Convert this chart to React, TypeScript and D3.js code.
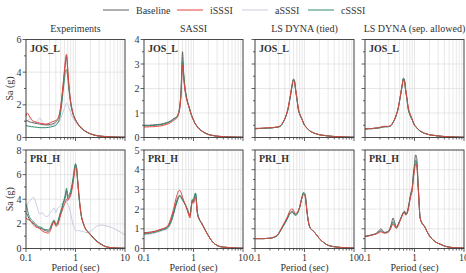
import React from 'react';
import * as d3 from 'd3';

// Period grid (sec)
const periods = [0.1, 0.105, 0.11, 0.12, 0.13, 0.14, 0.15, 0.17, 0.19, 0.21, 0.23, 0.25, 0.28, 0.31, 0.34, 0.37, 0.4, 0.43, 0.47, 0.5, 0.53, 0.56, 0.6, 0.63, 0.66, 0.7, 0.75, 0.8, 0.85, 0.9, 0.95, 1.0, 1.05, 1.1, 1.2, 1.3, 1.45, 1.6, 1.8, 2.0, 2.4, 2.8, 3.3, 4.0, 5.0, 6.5, 8.0, 10.0];

const seriesNames = ['Baseline', 'iSSSI', 'aSSSI', 'cSSSI'];
const seriesColors = ['#606060', '#e2453d', '#c8cbe0', '#2f8b6c'];
const panelTitles = ['Experiments', 'SASSI', 'LS DYNA (tied)', 'LS DYNA (sep. allowed)'];
const rowLabels = ['JOS_L', 'PRI_H'];
const rowYMax = [[6, 4, 4, 4], [8, 5, 5, 5]];
const rowYStep = [[2, 1, 1, 1], [2, 1, 1, 1]];
const xTickLabels = ['0.1', '1', '10'];

// Experiments, JOS_L
const expJosBase = [1.0, 1.05, 1.0, 0.95, 0.92, 0.9, 0.88, 0.85, 0.82, 0.8, 0.78, 0.77, 0.78, 0.8, 0.83, 0.88, 0.95, 1.05, 1.35, 1.8, 2.4, 3.1, 4.0, 4.6, 4.95, 4.0, 2.9, 2.2, 1.75, 1.45, 1.25, 1.1, 0.98, 0.88, 0.72, 0.6, 0.47, 0.38, 0.29, 0.23, 0.15, 0.11, 0.08, 0.06, 0.04, 0.03, 0.02, 0.015];
const expJosI = [1.3, 1.5, 1.45, 1.25, 1.1, 1.0, 0.97, 0.92, 0.88, 0.85, 0.83, 0.82, 0.85, 0.9, 0.97, 1.0, 1.05, 1.12, 1.4, 1.85, 2.5, 3.2, 4.2, 4.85, 5.1, 4.1, 2.9, 2.15, 1.7, 1.4, 1.2, 1.06, 0.95, 0.85, 0.7, 0.58, 0.45, 0.37, 0.28, 0.22, 0.14, 0.1, 0.075, 0.055, 0.04, 0.03, 0.02, 0.015];
const expJosA = [1.0, 0.95, 1.05, 1.15, 1.05, 0.95, 0.9, 1.0, 1.2, 1.0, 0.85, 0.8, 0.75, 0.72, 0.75, 0.8, 0.85, 0.9, 1.0, 1.15, 1.35, 1.55, 1.8, 2.0, 2.1, 2.0, 1.75, 1.5, 1.3, 1.15, 1.05, 0.95, 0.85, 0.78, 0.65, 0.55, 0.45, 0.37, 0.29, 0.23, 0.16, 0.12, 0.09, 0.07, 0.05, 0.04, 0.03, 0.02];
const expJosC = [0.72, 0.72, 0.7, 0.68, 0.66, 0.65, 0.64, 0.62, 0.6, 0.6, 0.6, 0.6, 0.62, 0.64, 0.67, 0.7, 0.75, 0.85, 1.1, 1.5, 2.1, 2.8, 3.6, 4.1, 4.15, 3.6, 2.7, 2.05, 1.65, 1.38, 1.2, 1.07, 0.96, 0.86, 0.71, 0.59, 0.46, 0.37, 0.28, 0.22, 0.14, 0.1, 0.075, 0.055, 0.04, 0.03, 0.02, 0.015];

// Experiments, PRI_H
const expPriBase = [2.9, 2.8, 2.6, 2.3, 2.15, 2.05, 1.95, 1.75, 1.65, 1.6, 1.5, 1.45, 1.4, 1.6, 2.0, 2.25, 1.9, 2.0, 2.5, 2.9, 3.2, 3.55, 3.9, 4.3, 4.7, 4.0, 4.2, 4.5, 5.0, 5.6, 6.3, 6.8, 6.6, 5.6, 3.9, 2.75, 2.0, 1.6, 1.35, 1.15, 0.8, 0.55, 0.35, 0.17, 0.08, 0.04, 0.03, 0.02];
const expPriI = [2.5, 2.4, 2.35, 2.3, 2.1, 1.95, 1.8, 1.7, 1.6, 1.45, 1.35, 1.3, 1.25, 1.45, 1.9, 2.2, 1.8, 1.85, 2.3, 2.7, 3.0, 3.3, 3.6, 3.8, 4.0, 3.9, 4.1, 4.3, 4.8, 5.4, 6.1, 6.6, 6.5, 5.7, 4.0, 2.8, 2.0, 1.55, 1.3, 1.1, 0.75, 0.5, 0.32, 0.15, 0.07, 0.04, 0.03, 0.02];
const expPriA = [3.0, 3.4, 3.7, 3.9, 4.0, 4.15, 4.0, 3.3, 2.8, 2.9, 2.75, 2.6, 2.65, 2.9, 3.1, 3.3, 2.9, 3.2, 3.4, 3.5, 3.6, 3.7, 3.9, 4.0, 3.8, 3.6, 3.3, 2.8, 2.3, 1.9, 1.65, 1.5, 1.45, 1.45, 1.45, 1.4, 1.4, 1.3, 1.3, 1.4, 1.65, 1.85, 1.9, 1.85, 1.75, 1.55, 1.35, 1.1];
const expPriC = [3.6, 3.3, 2.9, 2.5, 2.3, 2.2, 2.05, 1.85, 1.75, 1.7, 1.55, 1.55, 1.5, 1.7, 2.1, 2.3, 1.95, 2.1, 2.6, 3.0, 3.3, 3.7, 4.1, 4.5, 4.9, 4.2, 4.4, 4.7, 5.2, 5.8, 6.5, 6.9, 6.5, 5.5, 3.8, 2.7, 2.0, 1.6, 1.35, 1.15, 0.8, 0.55, 0.35, 0.17, 0.08, 0.04, 0.03, 0.02];

// SASSI, JOS_L
const sasJosBase = [0.5, 0.5, 0.5, 0.5, 0.5, 0.51, 0.51, 0.52, 0.53, 0.54, 0.55, 0.57, 0.6, 0.63, 0.67, 0.72, 0.78, 0.8, 0.88, 1.02, 1.3, 1.9, 3.5, 2.7, 2.2, 1.8, 1.5, 1.3, 1.12, 0.95, 0.82, 0.72, 0.62, 0.55, 0.44, 0.36, 0.28, 0.22, 0.17, 0.13, 0.09, 0.065, 0.05, 0.035, 0.025, 0.02, 0.015, 0.01];
const sasJosI = [0.43, 0.43, 0.43, 0.43, 0.44, 0.44, 0.44, 0.45, 0.46, 0.47, 0.48, 0.5, 0.53, 0.56, 0.6, 0.65, 0.71, 0.74, 0.82, 0.95, 1.2, 1.7, 2.95, 2.45, 2.05, 1.7, 1.45, 1.27, 1.1, 0.93, 0.8, 0.7, 0.61, 0.54, 0.43, 0.35, 0.27, 0.21, 0.16, 0.12, 0.085, 0.06, 0.045, 0.032, 0.024, 0.018, 0.014, 0.01];
const sasJosA = [0.49, 0.49, 0.49, 0.49, 0.49, 0.5, 0.5, 0.51, 0.52, 0.53, 0.54, 0.56, 0.59, 0.62, 0.66, 0.71, 0.77, 0.79, 0.87, 1.0, 1.28, 1.85, 3.3, 2.62, 2.15, 1.78, 1.48, 1.28, 1.1, 0.94, 0.81, 0.71, 0.61, 0.54, 0.43, 0.35, 0.27, 0.21, 0.16, 0.12, 0.085, 0.06, 0.045, 0.032, 0.024, 0.018, 0.014, 0.01];
const sasJosC = [0.48, 0.48, 0.48, 0.48, 0.48, 0.49, 0.49, 0.5, 0.51, 0.52, 0.53, 0.55, 0.58, 0.61, 0.65, 0.7, 0.76, 0.79, 0.87, 1.0, 1.27, 1.85, 3.1, 2.58, 2.15, 1.78, 1.48, 1.28, 1.1, 0.94, 0.81, 0.71, 0.61, 0.54, 0.43, 0.35, 0.27, 0.21, 0.16, 0.12, 0.085, 0.06, 0.045, 0.032, 0.024, 0.018, 0.014, 0.01];

// LS DYNA (tied), JOS_L
const tieJosBase = [0.36, 0.36, 0.36, 0.37, 0.37, 0.37, 0.38, 0.38, 0.39, 0.39, 0.4, 0.41, 0.42, 0.44, 0.5, 0.62, 0.75, 0.92, 1.2, 1.5, 1.8, 2.1, 2.38, 2.3, 1.95, 1.6, 1.15, 0.95, 0.82, 0.72, 0.6, 0.5, 0.45, 0.4, 0.32, 0.26, 0.21, 0.17, 0.14, 0.11, 0.09, 0.07, 0.055, 0.04, 0.03, 0.02, 0.015, 0.01];
const tieJosI = [0.37, 0.37, 0.38, 0.37, 0.38, 0.39, 0.38, 0.4, 0.39, 0.41, 0.4, 0.42, 0.43, 0.46, 0.52, 0.64, 0.77, 0.95, 1.25, 1.55, 1.85, 2.15, 2.32, 2.25, 2.0, 1.65, 1.2, 0.98, 0.84, 0.73, 0.6, 0.5, 0.45, 0.4, 0.32, 0.26, 0.21, 0.17, 0.14, 0.11, 0.09, 0.07, 0.055, 0.04, 0.03, 0.02, 0.015, 0.01];
const tieJosA = [0.36, 0.36, 0.36, 0.37, 0.37, 0.37, 0.38, 0.38, 0.39, 0.39, 0.4, 0.41, 0.42, 0.44, 0.5, 0.62, 0.75, 0.92, 1.2, 1.5, 1.8, 2.1, 2.4, 2.32, 1.95, 1.6, 1.15, 0.95, 0.82, 0.72, 0.6, 0.5, 0.45, 0.4, 0.32, 0.26, 0.21, 0.17, 0.14, 0.11, 0.09, 0.07, 0.055, 0.04, 0.03, 0.02, 0.015, 0.01];
const tieJosC = [0.36, 0.36, 0.36, 0.37, 0.37, 0.37, 0.38, 0.38, 0.39, 0.39, 0.4, 0.41, 0.42, 0.44, 0.5, 0.62, 0.75, 0.92, 1.2, 1.5, 1.8, 2.1, 2.36, 2.28, 1.95, 1.6, 1.15, 0.95, 0.82, 0.72, 0.6, 0.5, 0.45, 0.4, 0.32, 0.26, 0.21, 0.17, 0.14, 0.11, 0.09, 0.07, 0.055, 0.04, 0.03, 0.02, 0.015, 0.01];

// LS DYNA (sep. allowed), JOS_L
const sepJosBase = [0.35, 0.35, 0.35, 0.36, 0.36, 0.36, 0.37, 0.38, 0.39, 0.41, 0.43, 0.44, 0.44, 0.45, 0.5, 0.62, 0.75, 0.92, 1.2, 1.5, 1.8, 2.1, 2.42, 2.3, 1.95, 1.6, 1.15, 0.95, 0.82, 0.72, 0.6, 0.5, 0.45, 0.4, 0.32, 0.26, 0.21, 0.17, 0.14, 0.11, 0.09, 0.07, 0.055, 0.04, 0.03, 0.02, 0.015, 0.01];
const sepJosI = [0.36, 0.36, 0.37, 0.37, 0.36, 0.37, 0.38, 0.39, 0.41, 0.43, 0.45, 0.46, 0.45, 0.47, 0.52, 0.63, 0.77, 0.95, 1.22, 1.52, 1.82, 2.1, 2.35, 2.3, 2.0, 1.65, 1.22, 1.02, 0.88, 0.75, 0.62, 0.52, 0.46, 0.41, 0.33, 0.27, 0.21, 0.17, 0.14, 0.11, 0.09, 0.07, 0.055, 0.04, 0.03, 0.02, 0.015, 0.01];
const sepJosA = [0.35, 0.35, 0.35, 0.36, 0.36, 0.36, 0.37, 0.38, 0.39, 0.41, 0.43, 0.44, 0.44, 0.45, 0.5, 0.62, 0.75, 0.92, 1.2, 1.5, 1.8, 2.1, 2.44, 2.32, 1.95, 1.6, 1.15, 0.95, 0.82, 0.72, 0.6, 0.5, 0.45, 0.4, 0.32, 0.26, 0.21, 0.17, 0.14, 0.11, 0.09, 0.07, 0.055, 0.04, 0.03, 0.02, 0.015, 0.01];
const sepJosC = [0.35, 0.35, 0.35, 0.36, 0.36, 0.36, 0.37, 0.38, 0.39, 0.41, 0.43, 0.44, 0.44, 0.45, 0.5, 0.62, 0.75, 0.92, 1.2, 1.5, 1.8, 2.1, 2.4, 2.3, 1.95, 1.6, 1.15, 0.95, 0.82, 0.72, 0.6, 0.5, 0.45, 0.4, 0.32, 0.26, 0.21, 0.17, 0.14, 0.11, 0.09, 0.07, 0.055, 0.04, 0.03, 0.02, 0.015, 0.01];

// SASSI, PRI_H
const sasPriBase = [0.8, 0.8, 0.81, 0.82, 0.83, 0.84, 0.86, 0.88, 0.92, 0.95, 0.98, 1.0, 1.05, 1.15, 1.35, 1.6, 1.9, 2.2, 2.5, 2.65, 2.7, 2.65, 2.5, 2.4, 2.3, 2.15, 1.95, 1.75, 1.65, 2.1, 2.45, 2.35, 2.65, 2.78, 1.8, 1.5, 1.3, 1.1, 0.85, 0.65, 0.35, 0.2, 0.11, 0.07, 0.05, 0.03, 0.02, 0.015];
const sasPriI = [0.78, 0.78, 0.79, 0.8, 0.81, 0.82, 0.84, 0.87, 0.91, 0.95, 0.99, 1.02, 1.08, 1.2, 1.45, 1.75, 2.05, 2.4, 2.75, 2.92, 2.95, 2.85, 2.6, 2.45, 2.3, 2.15, 1.95, 1.7, 1.55, 2.05, 2.4, 2.3, 2.55, 2.6, 1.75, 1.48, 1.28, 1.08, 0.84, 0.64, 0.35, 0.2, 0.11, 0.07, 0.05, 0.03, 0.02, 0.015];
const sasPriA = [0.7, 0.7, 0.71, 0.72, 0.73, 0.74, 0.76, 0.79, 0.83, 0.86, 0.9, 0.93, 0.98, 1.06, 1.22, 1.45, 1.75, 2.05, 2.35, 2.55, 2.6, 2.55, 2.42, 2.35, 2.28, 2.15, 1.98, 1.8, 1.7, 2.12, 2.45, 2.38, 2.65, 2.7, 1.82, 1.5, 1.3, 1.1, 0.85, 0.65, 0.35, 0.2, 0.11, 0.07, 0.05, 0.03, 0.02, 0.015];
const sasPriC = [0.74, 0.74, 0.75, 0.76, 0.77, 0.78, 0.8, 0.83, 0.87, 0.9, 0.93, 0.96, 1.0, 1.08, 1.25, 1.5, 1.8, 2.1, 2.4, 2.6, 2.65, 2.6, 2.45, 2.38, 2.3, 2.18, 2.0, 1.82, 1.72, 2.15, 2.5, 2.4, 2.7, 2.82, 1.85, 1.52, 1.3, 1.1, 0.85, 0.65, 0.35, 0.2, 0.11, 0.07, 0.05, 0.03, 0.02, 0.015];

// LS DYNA (tied), PRI_H
const tiePriBase = [0.5, 0.5, 0.5, 0.5, 0.5, 0.5, 0.5, 0.51, 0.52, 0.52, 0.55, 0.58, 0.65, 0.8, 0.98, 1.15, 1.3, 1.45, 1.65, 1.8, 1.85, 1.9, 1.85, 1.75, 1.72, 1.75, 1.9, 2.1, 2.4, 2.65, 2.82, 2.8, 2.6, 2.1, 1.35, 1.05, 0.92, 0.82, 0.65, 0.5, 0.32, 0.2, 0.13, 0.09, 0.06, 0.04, 0.03, 0.02];
const tiePriI = [0.5, 0.5, 0.5, 0.5, 0.5, 0.5, 0.5, 0.51, 0.52, 0.53, 0.56, 0.6, 0.68, 0.84, 1.02, 1.2, 1.35, 1.5, 1.72, 1.9, 1.97, 2.02, 1.95, 1.82, 1.78, 1.8, 1.92, 2.1, 2.38, 2.6, 2.72, 2.7, 2.5, 2.05, 1.35, 1.05, 0.92, 0.82, 0.65, 0.5, 0.32, 0.2, 0.13, 0.09, 0.06, 0.04, 0.03, 0.02];
const tiePriA = [0.5, 0.5, 0.5, 0.5, 0.5, 0.5, 0.5, 0.51, 0.52, 0.52, 0.55, 0.58, 0.65, 0.8, 0.98, 1.14, 1.28, 1.43, 1.63, 1.78, 1.83, 1.86, 1.82, 1.73, 1.7, 1.74, 1.9, 2.1, 2.4, 2.66, 2.85, 2.82, 2.6, 2.1, 1.35, 1.05, 0.92, 0.82, 0.65, 0.5, 0.32, 0.2, 0.13, 0.09, 0.06, 0.04, 0.03, 0.02];
const tiePriC = [0.5, 0.5, 0.5, 0.5, 0.5, 0.5, 0.5, 0.51, 0.52, 0.52, 0.55, 0.58, 0.65, 0.8, 0.97, 1.12, 1.26, 1.4, 1.6, 1.75, 1.8, 1.82, 1.78, 1.7, 1.68, 1.72, 1.88, 2.08, 2.38, 2.64, 2.83, 2.8, 2.6, 2.1, 1.35, 1.05, 0.92, 0.82, 0.65, 0.5, 0.32, 0.2, 0.13, 0.09, 0.06, 0.04, 0.03, 0.02];

// LS DYNA (sep. allowed), PRI_H
const sepPriBase = [0.62, 0.63, 0.64, 0.66, 0.68, 0.7, 0.72, 0.78, 0.9, 1.0, 0.88, 0.82, 0.85, 0.95, 1.25, 1.55, 1.3, 1.1, 1.25, 1.4, 1.55, 1.7, 1.85, 1.9, 1.75, 1.8, 2.1, 2.5, 2.85, 3.1, 3.8, 4.3, 4.75, 4.65, 3.0, 1.55, 1.25, 1.12, 0.85, 0.65, 0.42, 0.3, 0.22, 0.13, 0.07, 0.04, 0.03, 0.02];
const sepPriI = [0.6, 0.61, 0.62, 0.64, 0.66, 0.68, 0.7, 0.74, 0.8, 0.85, 0.8, 0.78, 0.8, 0.88, 1.1, 1.25, 1.1, 1.02, 1.18, 1.35, 1.5, 1.65, 1.8, 1.85, 1.7, 1.75, 2.0, 2.4, 2.7, 2.95, 3.55, 3.95, 4.3, 4.25, 2.9, 1.55, 1.25, 1.1, 0.85, 0.65, 0.42, 0.3, 0.22, 0.13, 0.07, 0.04, 0.03, 0.02];
const sepPriA = [0.61, 0.62, 0.63, 0.65, 0.67, 0.69, 0.71, 0.76, 0.85, 0.92, 0.84, 0.8, 0.83, 0.92, 1.15, 1.4, 1.2, 1.05, 1.2, 1.38, 1.52, 1.68, 1.82, 1.88, 1.72, 1.78, 2.05, 2.45, 2.8, 3.05, 3.7, 4.15, 4.5, 4.45, 2.95, 1.55, 1.25, 1.12, 0.85, 0.65, 0.42, 0.3, 0.22, 0.13, 0.07, 0.04, 0.03, 0.02];
const sepPriC = [0.61, 0.62, 0.63, 0.65, 0.67, 0.69, 0.71, 0.76, 0.84, 0.9, 0.83, 0.8, 0.82, 0.9, 1.12, 1.35, 1.18, 1.04, 1.2, 1.37, 1.52, 1.67, 1.82, 1.87, 1.72, 1.77, 2.02, 2.42, 2.78, 3.02, 3.65, 4.1, 4.45, 4.4, 2.95, 1.55, 1.25, 1.12, 0.85, 0.65, 0.42, 0.3, 0.22, 0.13, 0.07, 0.04, 0.03, 0.02];

const panelSeries = [
  [
    [expJosBase, expJosI, expJosA, expJosC],
    [sasJosBase, sasJosI, sasJosA, sasJosC],
    [tieJosBase, tieJosI, tieJosA, tieJosC],
    [sepJosBase, sepJosI, sepJosA, sepJosC],
  ],
  [
    [expPriBase, expPriI, expPriA, expPriC],
    [sasPriBase, sasPriI, sasPriA, sasPriC],
    [tiePriBase, tiePriI, tiePriA, tiePriC],
    [sepPriBase, sepPriI, sepPriA, sepPriC],
  ],
];

// Layout
const W = 466;
const H = 273;
const PANEL_LEFT = [26, 144, 255, 365];
const PANEL_W = 99;
const ROW_TOP = [39.5, 150];
const ROW_BOTTOM = [137.5, 248.5];
const FONT = 'Liberation Serif, Times New Roman, Times, serif';
const TEXT_COLOR = '#333';
const DRAW_ORDER = [2, 0, 3, 1];

function Panel({ r, c }: { r: number; c: number }) {
  const L = PANEL_LEFT[c];
  const R = L + PANEL_W;
  const T = ROW_TOP[r];
  const B = ROW_BOTTOM[r];
  const x = d3.scaleLog().domain([0.1, 10]).range([L, R]);
  const y = d3.scaleLinear().domain([0, rowYMax[r][c]]).range([B, T]);
  const step = rowYStep[r][c];
  const majorY = d3.range(0, rowYMax[r][c] + 1e-9, step);
  const minorY = d3.range(step / 2, rowYMax[r][c], step).filter((v) => !majorY.some((m) => Math.abs(m - v) < 1e-9));
  const xt = x.ticks();
  const isMajorX = (v: number) => Math.abs(Math.log10(v) - Math.round(Math.log10(v))) < 1e-6;
  const line = d3
    .line<number>()
    .x((_, i) => x(periods[i]))
    .y((d) => y(d))
    .curve(d3.curveMonotoneX);
  const data = panelSeries[r][c];
  return (
    <g>
      {xt.map((v, i) => (
        <line key={'gx' + i} x1={x(v)} x2={x(v)} y1={T} y2={B} stroke="#d9d9d9" strokeWidth={0.6} />
      ))}
      {majorY.map((v, i) => (
        <line key={'gy' + i} x1={L} x2={R} y1={y(v)} y2={y(v)} stroke="#d9d9d9" strokeWidth={0.6} />
      ))}
      <g>
        {DRAW_ORDER.map((s) => (
          <path key={'s' + s} d={line(data[s]) || ''} fill="none" stroke={seriesColors[s]} strokeWidth={1} />
        ))}
      </g>
      <rect x={L} y={T} width={PANEL_W} height={B - T} fill="none" stroke="#3a3a3a" strokeWidth={0.9} />
      {xt.map((v, i) => (
        <line key={'tx' + i} x1={x(v)} x2={x(v)} y1={B} y2={B + (isMajorX(v) ? 3.5 : 2)} stroke="#3a3a3a" strokeWidth={0.8} />
      ))}
      {majorY.map((v, i) => (
        <line key={'ty' + i} x1={L - 3.5} x2={L} y1={y(v)} y2={y(v)} stroke="#3a3a3a" strokeWidth={0.8} />
      ))}
      {minorY.map((v, i) => (
        <line key={'tym' + i} x1={L - 2} x2={L} y1={y(v)} y2={y(v)} stroke="#3a3a3a" strokeWidth={0.8} />
      ))}
      {c < 2 &&
        majorY.map((v, i) => (
          <text key={'ly' + i} x={L - 4.5} y={y(v) + 3.5} textAnchor="end" fontSize={10} fontFamily={FONT} fill={TEXT_COLOR}>
            {d3.format('d')(v)}
          </text>
        ))}
      {r === 1 &&
        [0.1, 1, 10].map((v, i) => (
          <text key={'lx' + i} x={x(v)} y={261} textAnchor="middle" fontSize={10} fontFamily={FONT} fill={TEXT_COLOR}>
            {xTickLabels[i]}
          </text>
        ))}
      {r === 1 && (
        <text x={(L + R) / 2} y={271} textAnchor="middle" fontSize={10} fontFamily={FONT} fill={TEXT_COLOR}>
          Period (sec)
        </text>
      )}
      {r === 0 && (
        <text x={(L + R) / 2} y={32} textAnchor="middle" fontSize={10} fontFamily={FONT} fill={TEXT_COLOR}>
          {panelTitles[c]}
        </text>
      )}
      <text x={L + 4} y={T + 12} fontSize={10} fontWeight="bold" fontFamily={FONT} fill={TEXT_COLOR}>
        {rowLabels[r]}
      </text>
    </g>
  );
}

const legendX = [103, 177, 242, 308];

export default function App() {
  return (
    <div style={{ position: 'fixed', left: 0, top: 0, width: W, height: H, background: '#fff' }}>
      <svg width={W} height={H} viewBox={`0 0 ${W} ${H}`} style={{ fontFamily: FONT }}>
        <rect width={W} height={H} fill="#fff" />
        {seriesNames.map((n, i) => (
          <g key={'lg' + i}>
            <line x1={legendX[i]} x2={legendX[i] + 26} y1={10} y2={10} stroke={seriesColors[i]} strokeWidth={1} />
            <text x={legendX[i] + 33} y={13.5} fontSize={10} fontFamily={FONT} fill={TEXT_COLOR}>
              {n}
            </text>
          </g>
        ))}
        {[0, 1].map((r) => [0, 1, 2, 3].map((c) => <Panel key={r + '-' + c} r={r} c={c} />))}
        {[0, 1].map((r) => (
          <text
            key={'ylab' + r}
            transform={`translate(12.5, ${(ROW_TOP[r] + ROW_BOTTOM[r]) / 2}) rotate(-90)`}
            textAnchor="middle"
            fontSize={10}
            fontFamily={FONT}
            fill={TEXT_COLOR}
          >
            Sa (g)
          </text>
        ))}
      </svg>
    </div>
  );
}
